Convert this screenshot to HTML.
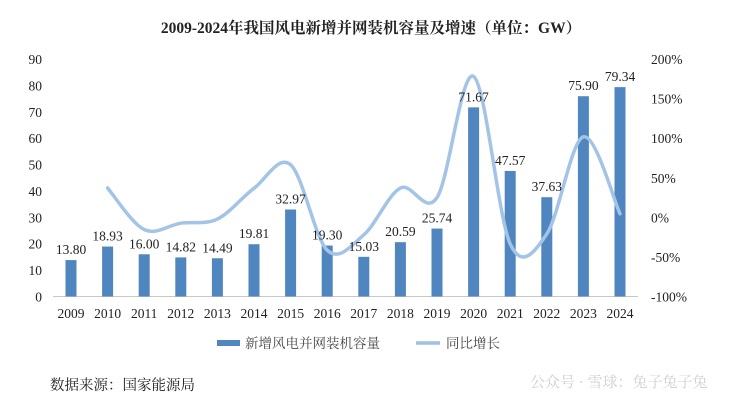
<!DOCTYPE html>
<html><head><meta charset="utf-8"><style>
html,body{margin:0;padding:0;background:#fff;}
svg{display:block;}
text{font-family:"Liberation Serif","Noto Serif CJK SC",serif;fill:#222;}
</style></head><body>
<svg id="chart" width="742" height="405" viewBox="0 0 742 405" xmlns="http://www.w3.org/2000/svg">
<text x="371" y="33" text-anchor="middle" font-size="15.5" font-weight="bold">2009-2024年我国风电新增并网装机容量及增速（单位：GW）</text>
<g id="axes"></g>
<g id="bars"></g>
<g id="line"></g>
<g id="labels"></g>
<g>
<rect x="217" y="340" width="23" height="6" fill="#4f86bf"/>
<text x="245" y="348" font-size="13.5" style="fill:#444">新增风电并网装机容量</text>
<line x1="416" y1="343" x2="440" y2="343" stroke="#9dc0e4" stroke-width="3.5"/>
<text x="446" y="348" font-size="13.5" style="fill:#444">同比增长</text>
</g>
<text x="50" y="390" font-size="14.5">数据来源：国家能源局</text>
<text x="530" y="387" font-size="15" style="fill:#cfcfcf">公众号 · 雪球：兔子兔子兔</text>
</svg>
<script>
const years=['2009','2010','2011','2012','2013','2014','2015','2016','2017','2018','2019','2020','2021','2022','2023','2024'];
const capacity=[13.80,18.93,16.00,14.82,14.49,19.81,32.97,19.30,15.03,20.59,25.74,71.67,47.57,37.63,75.90,79.34];
const growth=[null,37,-15.5,-7.4,-2.2,36.7,66.4,-41.5,-22.1,37,25,178,-33.6,-20.9,101.7,4.5];
const leftTicks=[0,10,20,30,40,50,60,70,80,90];
const rightTicks=[-100,-50,0,50,100,150,200];
const NS='http://www.w3.org/2000/svg';
const y0=296.5,yTop=59;
const yL=v=>y0-(v/90)*(y0-yTop);
const yR=v=>y0-((v+100)/300)*(y0-yTop);
const xC=i=>71+i*36.6;
function mk(tag,attrs,parent){const e=document.createElementNS(NS,tag);for(const k in attrs)e.setAttribute(k,attrs[k]);parent.appendChild(e);return e;}
const axes=document.getElementById('axes'),bars=document.getElementById('bars'),line=document.getElementById('line'),labels=document.getElementById('labels');
leftTicks.forEach(t=>{const e=mk('text',{x:42,y:yL(t)+5,'text-anchor':'end','font-size':13.5},axes);e.textContent=t;

});
rightTicks.forEach(t=>{const e=mk('text',{x:651,y:yR(t)+5,'font-size':13.5},axes);e.textContent=t+'%';

});
const ax=mk('line',{x1:53,y1:y0,x2:638,y2:y0,stroke:'#c8c8c8','stroke-width':1},axes);


years.forEach((yr,i)=>{const e=mk('text',{x:xC(i),y:318,'text-anchor':'middle','font-size':13.5},axes);e.textContent=yr;

});
capacity.forEach((v,i)=>{const r=mk('rect',{x:xC(i)-5.5,y:yL(v),width:11,height:y0-yL(v),fill:'#4f86bf'},bars);


const t=mk('text',{x:xC(i),y:yL(v)-6,'text-anchor':'middle','font-size':13.5},labels);t.textContent=v.toFixed(2);

});
const pts=[];growth.forEach((g,i)=>{if(g!==null)pts.push([xC(i),yR(g)]);});
let d='M'+pts[0][0]+','+pts[0][1];
for(let i=0;i<pts.length-1;i++){const p0=pts[Math.max(i-1,0)],p1=pts[i],p2=pts[i+1],p3=pts[Math.min(i+2,pts.length-1)];
const c1=[p1[0]+(p2[0]-p0[0])/6,p1[1]+(p2[1]-p0[1])/6],c2=[p2[0]-(p3[0]-p1[0])/6,p2[1]-(p3[1]-p1[1])/6];
d+=' C'+c1+' '+c2+' '+p2;}
const pl=mk('path',{d:d,fill:'none',stroke:'#a3c4e6','stroke-width':3.5,'stroke-linecap':'round'},line);


</script>
</body></html>
